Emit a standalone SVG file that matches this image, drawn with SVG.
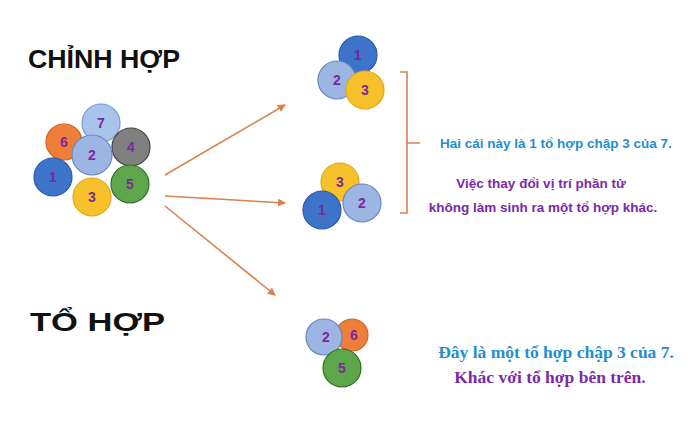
<svg xmlns="http://www.w3.org/2000/svg" width="696" height="433" viewBox="0 0 696 433">
<defs>
<style>
.b{stroke-width:1.2}
.n{font-family:"Liberation Sans",Arial,sans-serif;font-weight:bold;font-size:14px;fill:#7a2a9a;text-anchor:middle;dominant-baseline:central}
.t{font-family:"Liberation Sans",Arial,sans-serif;font-weight:bold;font-size:25px;fill:#111}
.bl{font-family:"Liberation Sans",Arial,sans-serif;font-weight:bold;font-size:13.5px;fill:#1f8fd0}
.pu{font-family:"Liberation Sans",Arial,sans-serif;font-weight:bold;font-size:13.5px;fill:#7a2aa8;text-anchor:middle}
.s1{font-family:"Liberation Serif",serif;font-weight:bold;font-size:17.5px;text-anchor:middle}
.c1{fill:#3d73c8;stroke:#2d5aa8}.c2{fill:#9db5e2;stroke:#6b86c0}.c3{fill:#f6c12a;stroke:#e0a820}
.c4{fill:#808080;stroke:#444}.c5{fill:#5ea64a;stroke:#2f6e2a}.c6{fill:#ef7e3a;stroke:#d06428}.c7{fill:#a9c4ea;stroke:#7b9bd0}
</style>
<marker id="ar" markerWidth="8" markerHeight="8" refX="7" refY="4" orient="auto" markerUnits="userSpaceOnUse"><path d="M0,0 L8,4 L0,8 Z" fill="#d9824e"/></marker>
</defs>
<rect width="696" height="433" fill="#fff"/>
<text class="t" x="28" y="68" textLength="152" lengthAdjust="spacingAndGlyphs">CHỈNH HỢP</text>
<text class="t" x="30" y="331" textLength="135" lengthAdjust="spacingAndGlyphs">TỔ HỢP</text>
<g id="set7">
<circle class="c7 b" cx="101" cy="123" r="19"/><text class="n" x="101" y="123">7</text>
<circle class="c6 b" cx="64" cy="142" r="18"/><text class="n" x="64" y="142">6</text>
<circle class="c4 b" cx="131" cy="147" r="19"/><text class="n" x="131" y="147">4</text>
<circle class="c2 b" cx="92" cy="155" r="20"/><text class="n" x="92" y="155">2</text>
<circle class="c1 b" cx="53" cy="177" r="19"/><text class="n" x="53" y="177">1</text>
<circle class="c3 b" cx="92" cy="197" r="19"/><text class="n" x="92" y="197">3</text>
<circle class="c5 b" cx="130" cy="184" r="19"/><text class="n" x="130" y="184">5</text>
</g>
<g id="groupA">
<circle class="c1 b" cx="358" cy="55" r="19"/><text class="n" x="358" y="55">1</text>
<circle class="c2 b" cx="337" cy="80" r="19"/><text class="n" x="337" y="80">2</text>
<circle class="c3 b" cx="365" cy="90" r="19"/><text class="n" x="365" y="90">3</text>
</g>
<g id="groupB">
<circle class="c3 b" cx="340" cy="182" r="19"/><text class="n" x="340" y="182">3</text>
<circle class="c1 b" cx="322" cy="210" r="19"/><text class="n" x="322" y="210">1</text>
<circle class="c2 b" cx="362" cy="203" r="19"/><text class="n" x="362" y="203">2</text>
</g>
<g id="groupC">
<circle class="c6 b" cx="352" cy="335" r="16"/><text class="n" x="354" y="335">6</text>
<circle class="c2 b" cx="324" cy="337" r="18"/><text class="n" x="326" y="337">2</text>
<circle class="c5 b" cx="342" cy="368" r="19"/><text class="n" x="342" y="368">5</text>
</g>
<g id="connectors" stroke="#d9824e" stroke-width="1.6" fill="none">
<line x1="165" y1="175" x2="285" y2="105" marker-end="url(#ar)"/>
<line x1="165" y1="196" x2="285" y2="203" marker-end="url(#ar)"/>
<line x1="165" y1="206" x2="275" y2="295" marker-end="url(#ar)"/>
<path d="M400,72 H407 V213 H400 M407,143 H420"/>
</g>
<text class="bl" x="440" y="148">Hai cái này là 1 tổ hợp chập 3 của 7.</text>
<text class="pu" x="541" y="188">Việc thay đổi vị trí phần tử</text>
<text class="pu" x="543" y="212">không làm sinh ra một tổ hợp khác.</text>
<text class="s1" x="556" y="358" fill="#1f8fd0">Đây là một tổ hợp chập 3 của 7.</text>
<text class="s1" x="550" y="383" fill="#7a2aa8">Khác với tổ hợp bên trên.</text>
</svg>
